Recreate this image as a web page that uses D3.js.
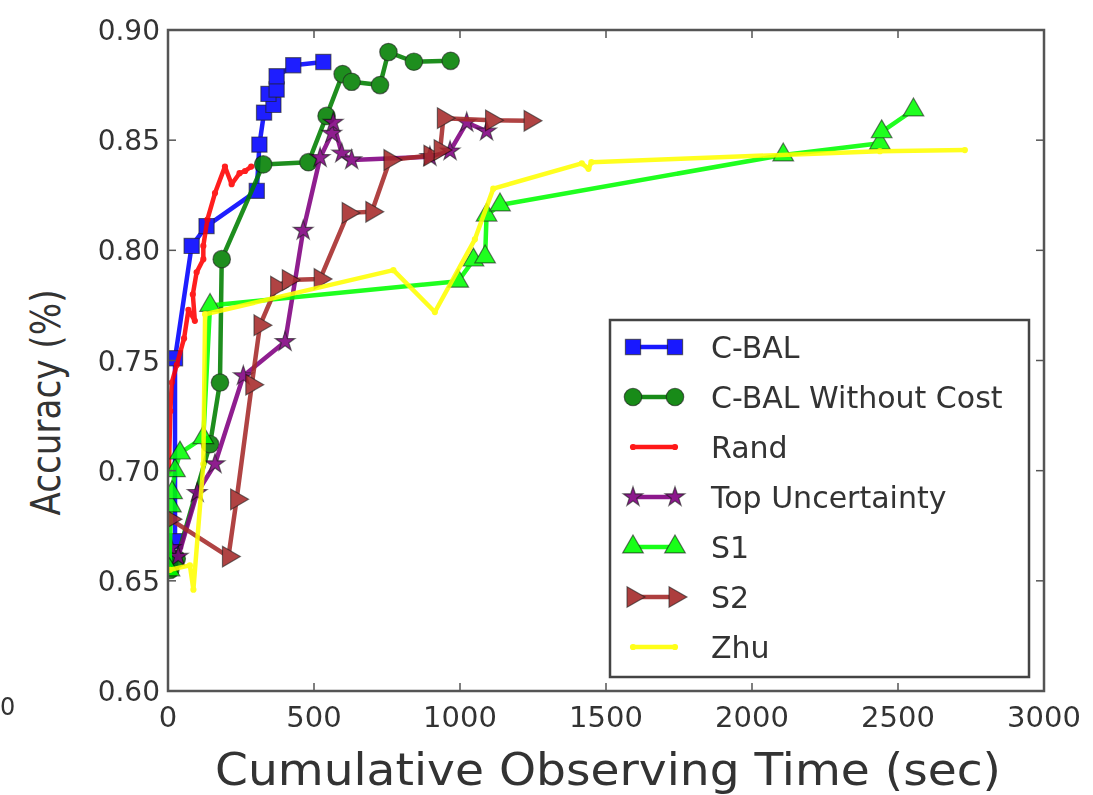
<!DOCTYPE html>
<html>
<head>
<meta charset="utf-8">
<script src="https://cdn.jsdelivr.net/npm/d3@7"></script>
<style>
  body { margin: 0; background: #fff; }
  svg text { font-family: "DejaVu Sans", sans-serif; fill: #333; }
</style>
</head>
<body>
<div id="chart"></div>
<script>
// series: time (sec) and accuracy
const seriesNames = ['C-BAL', 'C-BAL Without Cost', 'Rand', 'Top Uncertainty', 'S1', 'S2', 'Zhu'];

const cbalTime = [8, 24, 24, 81, 132, 304, 313, 329, 361, 344, 372, 372, 429, 532];
const cbalAcc = [0.660, 0.668, 0.751, 0.802, 0.811, 0.827, 0.848, 0.8625, 0.866, 0.871, 0.873, 0.879, 0.884, 0.8855];

const noCostTime = [8, 30, 144, 178, 184, 326, 481, 543, 598, 629, 726, 755, 842, 968];
const noCostAcc = [0.655, 0.660, 0.712, 0.740, 0.796, 0.839, 0.840, 0.861, 0.880, 0.8765, 0.875, 0.890, 0.8856, 0.886];

const randTime = [3, 8, 13, 30, 55, 70, 92, 85, 98, 121, 121, 135, 161, 195, 218, 245, 264, 285];
const randAcc = [0.700, 0.727, 0.740, 0.748, 0.760, 0.773, 0.768, 0.780, 0.790, 0.796, 0.802, 0.814, 0.826, 0.838, 0.830, 0.835, 0.836, 0.838];

const topUncTime = [10, 35, 100, 161, 258, 401, 463, 521, 561, 566, 595, 629, 897, 966, 1023, 1091];
const topUncAcc = [0.665, 0.661, 0.690, 0.703, 0.743, 0.7585, 0.809, 0.842, 0.853, 0.858, 0.844, 0.841, 0.8425, 0.845, 0.858, 0.854];

const s1Time = [5, 10, 14, 24, 41, 121, 144, 994, 1046, 1086, 1091, 1137, 2107, 2438, 2444, 2553];
const s1Acc = [0.655, 0.684, 0.690, 0.700, 0.708, 0.715, 0.775, 0.786, 0.7956, 0.797, 0.816, 0.8206, 0.8433, 0.8486, 0.8538, 0.8637];

const s2Time = [7, 207, 235, 287, 315, 372, 412, 521, 617, 698, 760, 897, 932, 943, 1108, 1240];
const s2Acc = [0.678, 0.661, 0.687, 0.739, 0.766, 0.7835, 0.7865, 0.787, 0.817, 0.8175, 0.841, 0.843, 0.8455, 0.860, 0.859, 0.8588];

const zhuTime = [7, 75, 87, 121, 127, 772, 914, 1051, 1114, 1417, 1440, 1450, 2438, 2729];
const zhuAcc = [0.655, 0.657, 0.646, 0.703, 0.771, 0.791, 0.772, 0.805, 0.828, 0.8395, 0.837, 0.840, 0.845, 0.8455];

const xTicks = [0, 500, 1000, 1500, 2000, 2500, 3000];
const yTicks = [0.60, 0.65, 0.70, 0.75, 0.80, 0.85, 0.90];

const styles = [
  { color: '#0000ff', marker: 'square' },
  { color: '#007f00', marker: 'circle' },
  { color: '#ff0000', marker: 'dot' },
  { color: '#800080', marker: 'star' },
  { color: '#00ff00', marker: 'triangle' },
  { color: '#a52a2a', marker: 'right' },
  { color: '#ffff00', marker: 'dot' }
];

const allTime = [cbalTime, noCostTime, randTime, topUncTime, s1Time, s2Time, zhuTime];
const allAcc = [cbalAcc, noCostAcc, randAcc, topUncAcc, s1Acc, s2Acc, zhuAcc];

const width = 1093;
const height = 795;
const margin = { left: 168, right: 49, top: 30, bottom: 104 };

const svg = d3.select('#chart').append('svg')
  .attr('width', width)
  .attr('height', height);

const x = d3.scaleLinear().domain([0, 3000]).range([margin.left, width - margin.right]);
const y = d3.scaleLinear().domain([0.60, 0.90]).range([height - margin.bottom, margin.top]);

const clip = svg.append('defs').append('clipPath').attr('id', 'plotclip');
clip.append('rect')
  .attr('x', margin.left).attr('y', margin.top)
  .attr('width', x(3000) - x(0)).attr('height', y(0.60) - y(0.90));

const makeSymbol = (kind) => {
  if (kind === 'square') return d3.symbol().type(d3.symbolSquare).size(230)();
  if (kind === 'circle') return d3.symbol().type(d3.symbolCircle).size(240)();
  if (kind === 'star') return d3.symbol().type(d3.symbolStar).size(120)();
  if (kind === 'triangle' || kind === 'right') return d3.symbol().type(d3.symbolTriangle).size(185)();
  return d3.symbol().type(d3.symbolCircle).size(14)();
};

const drawMarker = (g, kind, color, cx, cy) => {
  const rot = kind === 'right' ? 90 : 0;
  g.append('path')
    .attr('d', makeSymbol(kind))
    .attr('transform', `translate(${cx},${cy}) rotate(${rot})`)
    .attr('fill', color)
    .attr('stroke', kind === 'dot' ? color : 'rgba(0,0,0,0.6)')
    .attr('stroke-width', kind === 'dot' ? 2 : 1.2);
};

const plot = svg.append('g').attr('clip-path', 'url(#plotclip)');

const line = d3.line().x(d => x(d[0])).y(d => y(d[1]));

allTime.forEach((times, i) => {
  const pts = times.map((t, k) => [t, allAcc[i][k]]);
  const g = plot.append('g').attr('opacity', 0.88);
  g.append('path')
    .datum(pts)
    .attr('d', line)
    .attr('fill', 'none')
    .attr('stroke', styles[i].color)
    .attr('stroke-width', 4.5)
    .attr('stroke-linejoin', 'round');
  pts.forEach(p => drawMarker(g, styles[i].marker, styles[i].color, x(p[0]), y(p[1])));
});

// frame and inward ticks on every side
svg.append('rect')
  .attr('x', x(0)).attr('y', y(0.90))
  .attr('width', x(3000) - x(0)).attr('height', y(0.60) - y(0.90))
  .attr('fill', 'none')
  .attr('stroke', '#555')
  .attr('stroke-width', 2.5);

const tickLen = 8;
xTicks.forEach(t => {
  svg.append('line').attr('x1', x(t)).attr('x2', x(t))
    .attr('y1', y(0.60)).attr('y2', y(0.60) - tickLen)
    .attr('stroke', '#555').attr('stroke-width', 1.5);
  svg.append('line').attr('x1', x(t)).attr('x2', x(t))
    .attr('y1', y(0.90)).attr('y2', y(0.90) + tickLen)
    .attr('stroke', '#555').attr('stroke-width', 1.5);
  svg.append('text')
    .attr('x', x(t)).attr('y', y(0.60) + 36)
    .attr('text-anchor', 'middle')
    .attr('font-size', 29)
    .text(t);
});

yTicks.forEach(t => {
  svg.append('line').attr('x1', x(0)).attr('x2', x(0) + tickLen)
    .attr('y1', y(t)).attr('y2', y(t))
    .attr('stroke', '#555').attr('stroke-width', 1.5);
  svg.append('line').attr('x1', x(3000)).attr('x2', x(3000) - tickLen)
    .attr('y1', y(t)).attr('y2', y(t))
    .attr('stroke', '#555').attr('stroke-width', 1.5);
  svg.append('text')
    .attr('x', x(0) - 8).attr('y', y(t) + 10)
    .attr('text-anchor', 'end')
    .attr('font-size', 28)
    .text(t.toFixed(2));
});

svg.append('text')
  .attr('x', (x(0) + x(3000)) / 2 + 2).attr('y', 785)
  .attr('text-anchor', 'middle')
  .attr('font-size', 44)
  .attr('textLength', 786)
  .attr('lengthAdjust', 'spacingAndGlyphs')
  .text('Cumulative Observing Time (sec)');

svg.append('text')
  .attr('transform', `translate(60, ${(y(0.60) + y(0.90)) / 2 + 42}) rotate(-90)`)
  .attr('text-anchor', 'middle')
  .attr('font-size', 40)
  .attr('textLength', 226)
  .attr('lengthAdjust', 'spacingAndGlyphs')
  .text('Accuracy (%)');

// label of a neighbouring panel at the far left edge
svg.append('text')
  .attr('x', 0).attr('y', 715)
  .attr('font-size', 24)
  .text('0');

// legend
const legend = svg.append('g');
legend.append('rect')
  .attr('x', 610).attr('y', 320)
  .attr('width', 419).attr('height', 357)
  .attr('fill', '#fff')
  .attr('stroke', '#444')
  .attr('stroke-width', 2.5);

seriesNames.forEach((name, i) => {
  const ly = 347 + i * 50;
  const g = legend.append('g').attr('opacity', 0.9);
  g.append('line')
    .attr('x1', 633).attr('x2', 675)
    .attr('y1', ly).attr('y2', ly)
    .attr('stroke', styles[i].color)
    .attr('stroke-width', 4.5)
    .attr('stroke-linecap', 'round');
  drawMarker(g, styles[i].marker, styles[i].color, 633, ly);
  drawMarker(g, styles[i].marker, styles[i].color, 675, ly);
  legend.append('text')
    .attr('x', 711).attr('y', ly + 11)
    .attr('font-size', 30)
    .text(name);
});
</script>
</body>
</html>
